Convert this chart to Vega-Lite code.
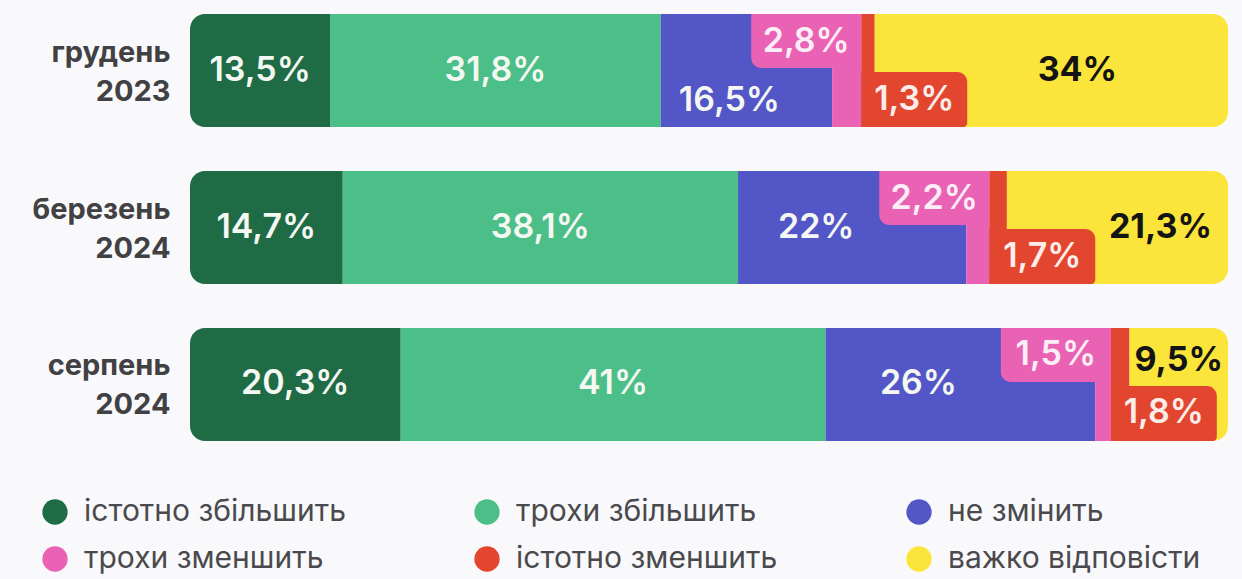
{
  "$schema": "https://vega.github.io/schema/vega-lite/v6.json",
  "width": 1038,
  "height": 455,
  "autosize": "none",
  "padding": {"left": 190, "top": 0, "right": 14, "bottom": 124},
  "background": "#f9f9fb",
  "config": {"view": {"stroke": null}, "font": "Inter"},
  "data": {"values": [
    {"row": "грудень 2023", "cat": "істотно збільшить", "i": 0, "v": 13.5, "label": "13,5%"},
    {"row": "грудень 2023", "cat": "трохи збільшить", "i": 1, "v": 31.8, "label": "31,8%"},
    {"row": "грудень 2023", "cat": "не змінить", "i": 2, "v": 16.5, "label": "16,5%"},
    {"row": "грудень 2023", "cat": "трохи зменшить", "i": 3, "v": 2.8, "label": "2,8%"},
    {"row": "грудень 2023", "cat": "істотно зменшить", "i": 4, "v": 1.3, "label": "1,3%"},
    {"row": "грудень 2023", "cat": "важко відповісти", "i": 5, "v": 34, "label": "34%"},
    {"row": "березень 2024", "cat": "істотно збільшить", "i": 0, "v": 14.7, "label": "14,7%"},
    {"row": "березень 2024", "cat": "трохи збільшить", "i": 1, "v": 38.1, "label": "38,1%"},
    {"row": "березень 2024", "cat": "не змінить", "i": 2, "v": 22, "label": "22%"},
    {"row": "березень 2024", "cat": "трохи зменшить", "i": 3, "v": 2.2, "label": "2,2%"},
    {"row": "березень 2024", "cat": "істотно зменшить", "i": 4, "v": 1.7, "label": "1,7%"},
    {"row": "березень 2024", "cat": "важко відповісти", "i": 5, "v": 21.3, "label": "21,3%"},
    {"row": "серпень 2024", "cat": "істотно збільшить", "i": 0, "v": 20.3, "label": "20,3%"},
    {"row": "серпень 2024", "cat": "трохи збільшить", "i": 1, "v": 41, "label": "41%"},
    {"row": "серпень 2024", "cat": "не змінить", "i": 2, "v": 26, "label": "26%"},
    {"row": "серпень 2024", "cat": "трохи зменшить", "i": 3, "v": 1.5, "label": "1,5%"},
    {"row": "серпень 2024", "cat": "істотно зменшить", "i": 4, "v": 1.8, "label": "1,8%"},
    {"row": "серпень 2024", "cat": "важко відповісти", "i": 5, "v": 9.5, "label": "9,5%"}
  ]},
  "transform": [
    {"stack": "v", "groupby": ["row"], "sort": [{"field": "i"}], "as": ["x0", "x1"], "offset": "normalize"},
    {"calculate": "(datum.x0 + datum.x1) / 2", "as": "xm"}
  ],
  "encoding": {
    "y": {
      "field": "row", "type": "nominal", "sort": null, "title": null,
      "scale": {"paddingInner": 0.28, "paddingOuter": 0.09},
      "axis": {
        "domain": false, "ticks": false, "labelPadding": 20,
        "labelExpr": "split(datum.label, ' ')",
        "labelFontSize": 29, "labelFontWeight": 700, "labelColor": "#414144",
        "labelLineHeight": 39, "labelFont": "Inter", "labelOffset": -18
      }
    }
  },
  "layer": [
    {
      "transform": [{"filter": "datum.i >= 1 && datum.i <= 4"}],
      "mark": {"type": "bar"},
      "encoding": {
        "x": {"field": "x0", "type": "quantitative", "axis": null, "scale": {"domain": [0, 1], "nice": false, "zero": false}},
        "x2": {"field": "x1"},
        "color": {
          "field": "cat", "type": "nominal", "title": null,
          "scale": {
            "domain": ["істотно збільшить", "трохи збільшить", "не змінить", "трохи зменшить", "істотно зменшить", "важко відповісти"],
            "range": ["#1e6b46", "#4bbf87", "#5256c6", "#ea62b3", "#e3462f", "#fbe53b"]
          },
          "legend": {
            "orient": "none", "legendX": -150, "legendY": 497, "columns": 3, "direction": "horizontal",
            "symbolType": "circle", "symbolSize": 640, "symbolStrokeWidth": 0,
            "labelFontSize": 30, "labelFont": "Inter", "labelColor": "#4a4a4e",
            "labelOffset": 14, "columnPadding": 126, "rowPadding": 17,
            "labelLimit": 400
          }
        }
      }
    },
    {
      "transform": [{"filter": "datum.i == 0"}],
      "mark": {"type": "bar", "cornerRadiusTopLeft": 15, "cornerRadiusBottomLeft": 15},
      "encoding": {
        "x": {"field": "x0", "type": "quantitative"},
        "x2": {"field": "x1"},
        "color": {"field": "cat", "type": "nominal"}
      }
    },
    {
      "transform": [{"filter": "datum.i == 5"}],
      "mark": {"type": "bar", "cornerRadiusTopRight": 15, "cornerRadiusBottomRight": 15},
      "encoding": {
        "x": {"field": "x0", "type": "quantitative"},
        "x2": {"field": "x1"},
        "color": {"field": "cat", "type": "nominal"}
      }
    },
    {
      "transform": [{"filter": "datum.i == 3"}],
      "mark": {"type": "bar", "height": 54, "yOffset": -29.5, "xOffset": -110, "cornerRadiusBottomLeft": 10},
      "encoding": {
        "x": {"field": "x1", "type": "quantitative"},
        "x2": {"field": "x1"},
        "color": {"field": "cat", "type": "nominal"}
      }
    },
    {
      "transform": [{"filter": "datum.i == 4"}],
      "mark": {"type": "bar", "height": 55, "yOffset": 29, "x2Offset": 106, "cornerRadiusTopRight": 10, "cornerRadiusBottomRight": 4},
      "encoding": {
        "x": {"field": "x0", "type": "quantitative"},
        "x2": {"field": "x0"},
        "color": {"field": "cat", "type": "nominal"}
      }
    },
    {
      "transform": [{"filter": "datum.i <= 1"}],
      "mark": {"type": "text", "fontSize": 34, "fontWeight": 600, "color": "#f4f7f2", "align": "center", "baseline": "middle"},
      "encoding": {"x": {"field": "xm", "type": "quantitative"}, "text": {"field": "label"}}
    },
    {
      "transform": [{"filter": "datum.i == 2 && datum.row == 'березень 2024'"}],
      "mark": {"type": "text", "fontSize": 34, "fontWeight": 600, "color": "#f4f7f2", "align": "center", "baseline": "middle", "dx": -36},
      "encoding": {"x": {"field": "xm", "type": "quantitative"}, "text": {"field": "label"}}
    },
    {
      "transform": [{"filter": "datum.i == 2 && datum.row == 'серпень 2024'"}],
      "mark": {"type": "text", "fontSize": 34, "fontWeight": 600, "color": "#f4f7f2", "align": "center", "baseline": "middle", "dx": -42},
      "encoding": {"x": {"field": "xm", "type": "quantitative"}, "text": {"field": "label"}}
    },
    {
      "transform": [{"filter": "datum.i == 2 && datum.row == 'грудень 2023'"}],
      "mark": {"type": "text", "fontSize": 34, "fontWeight": 600, "color": "#f4f7f2", "align": "center", "baseline": "middle", "dx": -17, "dy": 30},
      "encoding": {"x": {"field": "xm", "type": "quantitative"}, "text": {"field": "label"}}
    },
    {
      "transform": [{"filter": "datum.i == 5 && datum.row == 'грудень 2023'"}],
      "mark": {"type": "text", "fontSize": 34, "fontWeight": 700, "color": "#141414", "align": "center", "baseline": "middle", "dx": 26},
      "encoding": {"x": {"field": "xm", "type": "quantitative"}, "text": {"field": "label"}}
    },
    {
      "transform": [{"filter": "datum.i == 5 && datum.row == 'березень 2024'"}],
      "mark": {"type": "text", "fontSize": 34, "fontWeight": 700, "color": "#141414", "align": "center", "baseline": "middle", "dx": 43},
      "encoding": {"x": {"field": "xm", "type": "quantitative"}, "text": {"field": "label"}}
    },
    {
      "transform": [{"filter": "datum.i == 5 && datum.row == 'серпень 2024'"}],
      "mark": {"type": "text", "fontSize": 34, "fontWeight": 700, "color": "#141414", "align": "center", "baseline": "middle", "dy": -23},
      "encoding": {"x": {"field": "xm", "type": "quantitative"}, "text": {"field": "label"}}
    },
    {
      "transform": [{"filter": "datum.i == 3"}],
      "mark": {"type": "text", "fontSize": 34, "fontWeight": 600, "color": "#fbeef6", "align": "center", "baseline": "middle", "dx": -55, "dy": -29},
      "encoding": {"x": {"field": "x1", "type": "quantitative"}, "text": {"field": "label"}}
    },
    {
      "transform": [{"filter": "datum.i == 4"}],
      "mark": {"type": "text", "fontSize": 34, "fontWeight": 600, "color": "#fbeeea", "align": "center", "baseline": "middle", "dx": 53, "dy": 29},
      "encoding": {"x": {"field": "x0", "type": "quantitative"}, "text": {"field": "label"}}
    }
  ]
}
